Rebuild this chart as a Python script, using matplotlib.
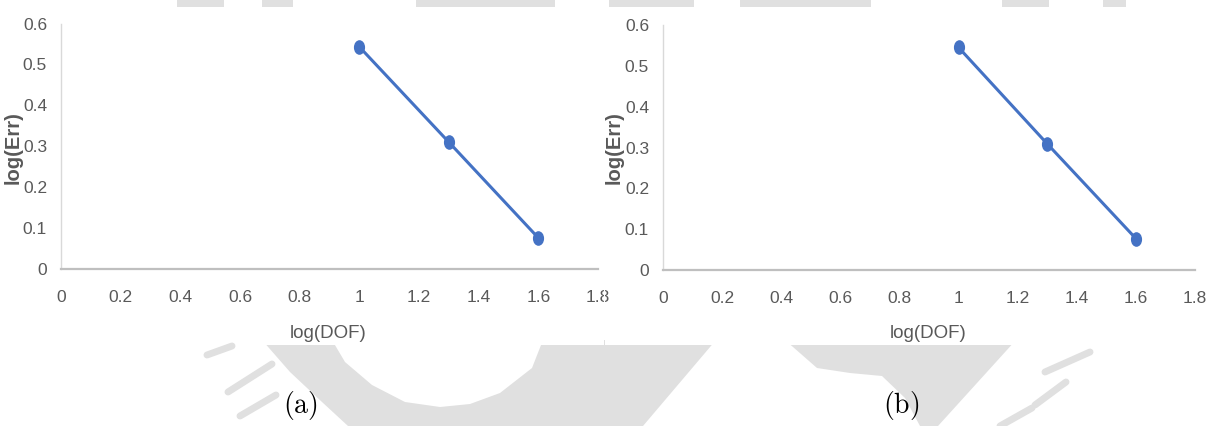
import matplotlib.pyplot as plt
from matplotlib.path import Path
from matplotlib.transforms import Affine2D
from matplotlib.patches import Rectangle, Polygon

plt.rcParams['mathtext.fontset'] = 'cm'

# convergence data, log10 of degrees of freedom vs log10 of error
log_dof = [1.0, 1.3, 1.6]
log_err_a = [0.543, 0.310, 0.076]
log_err_b = [0.545, 0.309, 0.077]
x_ticks = [0, 0.2, 0.4, 0.6, 0.8, 1, 1.2, 1.4, 1.6, 1.8]
y_ticks = [0, 0.1, 0.2, 0.3, 0.4, 0.5, 0.6]
captions = ['(a)', '(b)']

blue = '#4472c4'
grey_text = '#595959'
sans = ['Liberation Sans', 'DejaVu Sans']

# squeezed ellipse marker
oval = Path.unit_circle().transformed(Affine2D().scale(0.74, 1.0))

fig = plt.figure(figsize=(12.09, 4.26), dpi=100)

# page background with the faint seal behind the charts
bg = fig.add_axes([0, 0, 1, 1])
bg.set_xlim(0, 1209)
bg.set_ylim(426, 0)
bg.axis('off')
wm = '#e0e0e0'
seal_parts = [
    [(262, 340), (290, 372), (322, 402), (348, 426), (643, 426), (716, 340),
     (543, 340), (532, 368), (500, 393), (470, 404), (440, 407), (405, 402),
     (372, 385), (345, 362), (332, 340)],
    [(785, 340), (1016, 340), (938, 426), (920, 426), (905, 398), (882, 376),
     (850, 373), (817, 368)],
]
for pts in seal_parts:
    bg.add_patch(Polygon(pts, closed=True, facecolor=wm, edgecolor='none'))
for (x0, y0, x1, y1) in [(207, 355, 232, 346), (228, 392, 272, 364),
                         (240, 416, 276, 395), (1045, 372, 1090, 352),
                         (1035, 405, 1066, 382), (1000, 426, 1032, 408)]:
    bg.plot([x0, x1], [y0, y1], color=wm, lw=5, solid_capstyle='round')
for (x0, x1) in [(177, 224), (262, 293), (416, 555), (609, 694), (740, 871),
                 (1002, 1049), (1103, 1126)]:
    bg.add_patch(Rectangle((x0, 0), x1 - x0, 8, facecolor=wm, edgecolor='none'))

# white chart areas
bg.add_patch(Rectangle((0, 7), 604, 338, facecolor='white', edgecolor='none'))
bg.add_patch(Rectangle((605, 7), 604, 338, facecolor='white', edgecolor='none'))


def add_chart(rect, y, ylabel_x, xlabel_x, caption, caption_x):
    ax = fig.add_axes(rect)
    ax.set_facecolor('none')
    ax.plot(log_dof, y, color=blue, lw=2.2, marker=oval, ms=9.5,
            clip_on=False, zorder=3)
    ax.set_xlim(0, 1.8)
    ax.set_ylim(0, 0.6)
    ax.set_xticks(x_ticks)
    ax.set_xticklabels([f'{t:g}' for t in x_ticks])
    ax.set_yticks(y_ticks)
    ax.set_yticklabels([f'{t:g}' for t in y_ticks])
    ax.tick_params(length=0, labelsize=12.5, labelcolor=grey_text)
    ax.tick_params(axis='x', pad=15)
    ax.tick_params(axis='y', pad=10)
    for lab in ax.get_xticklabels() + ax.get_yticklabels():
        lab.set_fontfamily(sans)
    for side in ['top', 'right']:
        ax.spines[side].set_visible(False)
    ax.spines['left'].set_color('#d9d9d9')
    ax.spines['left'].set_linewidth(1.0)
    ax.spines['bottom'].set_color('#bfbfbf')
    ax.spines['bottom'].set_linewidth(1.6)
    fig.text(ylabel_x / 1209, 1 - 148 / 426, 'log(Err)', rotation=90,
             ha='center', va='center', fontsize=14.5, fontweight='bold',
             color=grey_text, family=sans)
    fig.text(xlabel_x / 1209, 1 - 333 / 426, 'log(DOF)', ha='center',
             va='center', fontsize=13.5, color=grey_text, family=sans)
    fig.text(caption_x / 1209, 1 - 406 / 426, r'$\mathrm{' + caption + '}$',
             ha='center', va='center', fontsize=20, color='black')
    return ax


add_chart([61 / 1209, 1 - 269 / 426, 537 / 1209, 245.5 / 426], log_err_a,
          13, 328, captions[0], 300)
add_chart([663 / 1209, 1 - 270 / 426, 532 / 1209, 245 / 426], log_err_b,
          614, 928, captions[1], 901)

# the left chart is cut off at its right edge
fig.add_artist(Rectangle((604 / 1209, 100 / 426), 1 / 1209, 50 / 426,
                         transform=fig.transFigure, facecolor='white',
                         edgecolor='none', zorder=10))

fig.savefig('out.png', dpi=100)
